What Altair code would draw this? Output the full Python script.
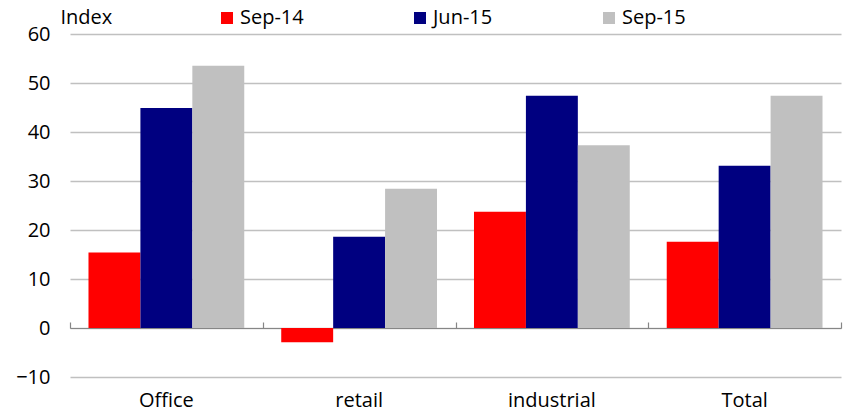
import altair as alt
import pandas as pd

categories = ["Office", "retail", "industrial", "Total"]
series = ["Sep-14", "Jun-15", "Sep-15"]
sep14 = [15.4, -2.9, 23.7, 17.6]
jun15 = [44.9, 18.6, 47.4, 33.1]
sep15 = [53.5, 28.4, 37.3, 47.4]
colors = ["#FF0000", "#000080", "#C0C0C0"]
y_ticks = [-10, 0, 10, 20, 30, 40, 50, 60]

rows = []
for i, c in enumerate(categories):
    for s, vals in zip(series, [sep14, jun15, sep15]):
        rows.append({"cat": c, "series": s, "value": vals[i]})
df = pd.DataFrame(rows)

FONT = "Open Sans"
FS = 20
xscale = alt.Scale(paddingInner=0, paddingOuter=0)
yscale = alt.Scale(domain=[-10, 60], nice=False, zero=False)

bars = alt.Chart(df).mark_bar().encode(
    x=alt.X("cat:N", sort=categories, scale=xscale, title=None,
            axis=alt.Axis(orient="bottom", domain=False, ticks=False, grid=False,
                          labelAngle=0, labelPadding=13, labelFontSize=FS,
                          labelColor="#000000", labelFont=FONT)),
    xOffset=alt.XOffset("series:N", sort=series,
                        scale=alt.Scale(paddingOuter=0.356, paddingInner=0)),
    y=alt.Y("value:Q", scale=yscale, title="Index",
            axis=alt.Axis(values=y_ticks, domain=False, ticks=False, grid=True,
                          gridColor="#C0C0C0", gridWidth=1.5,
                          labelPadding=20, labelFontSize=FS, labelColor="#000000",
                          labelFont=FONT, titleAngle=0, titleX=-10, titleY=-11,
                          titleAlign="left", titleBaseline="alphabetic",
                          titleFontSize=FS, titleFontWeight="normal", titleFont=FONT,
                          titleColor="#000000")),
    color=alt.Color("series:N", sort=series,
                    scale=alt.Scale(domain=series, range=colors),
                    legend=alt.Legend(title=None, orient="none", direction="horizontal",
                                      columns=3, legendX=147, legendY=-26,
                                      symbolType="square", symbolSize=144,
                                      symbolStrokeWidth=0, symbolOpacity=1,
                                      columnPadding=106, labelFontSize=FS,
                                      labelFont=FONT, labelColor="#000000",
                                      labelOffset=3)),
)

axis_layer = alt.Chart(df).mark_bar(opacity=0).encode(
    x=alt.X("cat:N", sort=categories, scale=xscale, title=None,
            axis=alt.Axis(orient="top", offset=-294, labels=False, grid=False,
                          domainColor="#868686", domainWidth=1.2,
                          tickColor="#868686", tickSize=6, tickWidth=1.2,
                          tickBand="extent")),
    y=alt.datum(0, scale=yscale),
)

chart = alt.layer(bars, axis_layer).resolve_axis(x="independent").properties(
    width=771, height=343,
    padding={"left": 70, "top": 34, "right": 9, "bottom": 40},
    autosize=alt.AutoSizeParams(type="none"),
).configure_view(stroke=None)

chart.save("out.html", embed_options={"renderer": "svg", "actions": False})
